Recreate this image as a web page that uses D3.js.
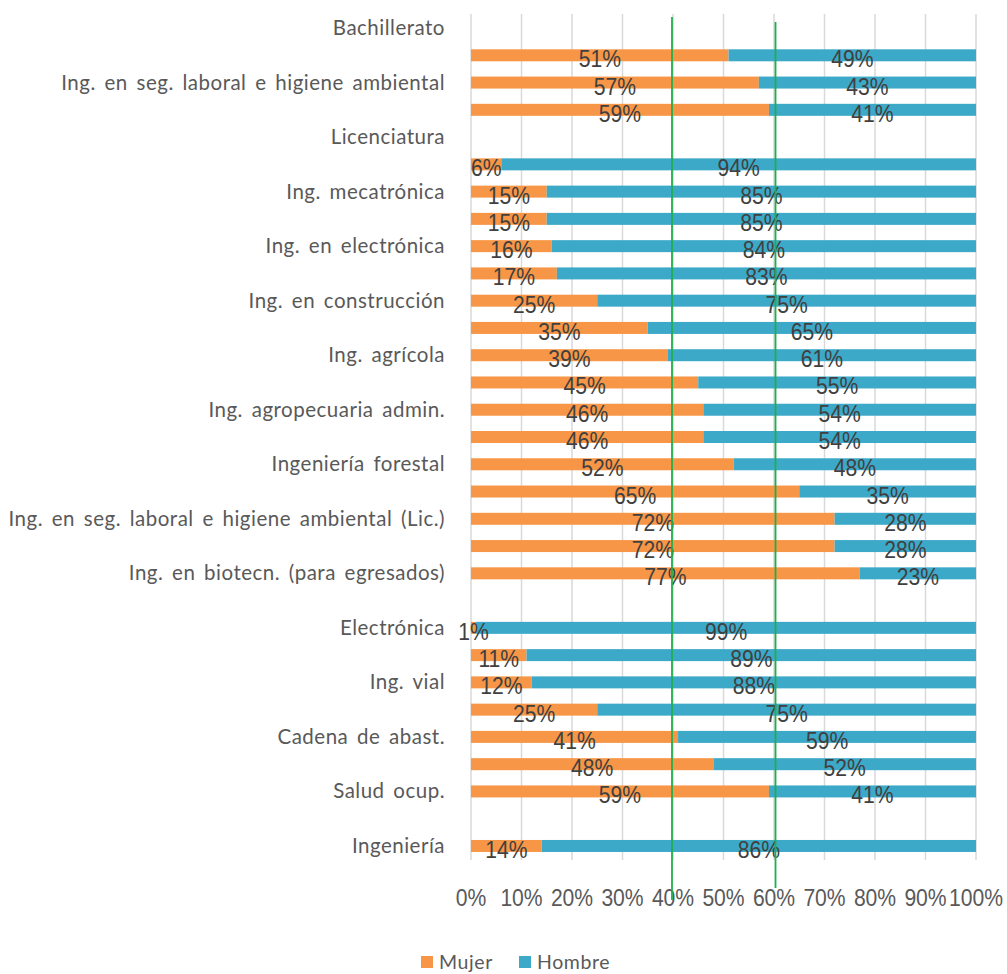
<!DOCTYPE html>
<html><head><meta charset="utf-8">
<script src="https://cdn.jsdelivr.net/npm/d3@7"></script>
<style>
html,body{margin:0;padding:0;background:#fff;}
svg{display:block;}
</style></head>
<body>
<script>
// ---- data ----
const categories = ["Bachillerato", "", "Ing. en seg. laboral e higiene ambiental", "", "Licenciatura", "", "Ing. mecatrónica", "", "Ing. en electrónica", "", "Ing. en construcción", "", "Ing. agrícola", "", "Ing. agropecuaria admin.", "", "Ingeniería forestal", "", "Ing. en seg. laboral e higiene ambiental (Lic.)", "", "Ing. en biotecn. (para egresados)", "", "Electrónica", "", "Ing. vial", "", "Cadena de abast.", "", "Salud ocup.", "", "Ingeniería"];
const mujer  = [null,51,57,59,null,6,15,15,16,17,25,35,39,45,46,46,52,65,72,72,77,null,1,11,12,25,41,48,59,null,14];
const hombre = [null,49,43,41,null,94,85,85,84,83,75,65,61,55,54,54,48,35,28,28,23,null,99,89,88,75,59,52,41,null,86];
const seriesNames = ["Mujer","Hombre"];
const seriesColors = ["#F79646","#3DA9C8"];
const ticks = [0,10,20,30,40,50,60,70,80,90,100];
const tickLabels = ["0%","10%","20%","30%","40%","50%","60%","70%","80%","90%","100%"];
const refLines = [39.8, 60.3];

// ---- layout ----
const W = 1007, H = 974;
const svg = d3.select("body").append("svg").attr("width", W).attr("height", H);

const x = d3.scaleLinear().domain([0,100]).range([471, 976]);
const y = d3.scaleBand().domain(d3.range(categories.length)).range([14.4, 859.6]).paddingInner(0.56).paddingOuter(0.28);

const rows = categories.map((c,i)=>({i, c, m: mujer[i], h: hombre[i]}));

// gridlines
svg.append("g").selectAll("line").data(ticks).join("line")
  .attr("x1", d=>x(d)).attr("x2", d=>x(d))
  .attr("y1", 14).attr("y2", 860)
  .attr("stroke", "#d9d9d9").attr("stroke-width", 1.5);

// bars
const barG = svg.append("g");
const withData = rows.filter(r=>r.m!=null);
barG.selectAll("rect.m").data(withData).join("rect").attr("class","m")
  .attr("x", x(0)).attr("y", d=>y(d.i)).attr("width", d=>x(d.m)-x(0)).attr("height", y.bandwidth())
  .attr("fill", seriesColors[0]);
barG.selectAll("rect.h").data(withData).join("rect").attr("class","h")
  .attr("x", d=>x(d.m)).attr("y", d=>y(d.i)).attr("width", d=>x(d.m+d.h)-x(d.m)).attr("height", y.bandwidth())
  .attr("fill", seriesColors[1]);

// data labels
const lblFont = "'Liberation Sans', Arial, Helvetica, sans-serif";
function addLabel(g, cx, by, txt, color, size, sx){
  g.append("text").attr("transform", `translate(${cx},${by}) scale(${sx},1)`)
    .attr("text-anchor","middle").attr("font-family", lblFont).attr("font-size", size)
    .attr("fill", color).text(txt);
}
const dl = svg.append("g");
withData.forEach(d=>{
  const cy = y(d.i) + y.bandwidth()/2;
  addLabel(dl, (x(0)+x(d.m))/2, cy+12, d.m+"%", "#404040", 24, 0.88);
  addLabel(dl, (x(d.m)+x(100))/2, cy+12, d.h+"%", "#404040", 24, 0.88);
});

// category labels
const catFont = "Lato, 'Open Sans', sans-serif";
svg.append("g").selectAll("text").data(rows.filter(r=>r.c!=="")).join("text")
  .attr("x", 445).attr("y", d=>y(d.i)+y.bandwidth()/2+7)
  .attr("text-anchor","end").attr("font-family", catFont).attr("font-size", 20.5)
  .attr("word-spacing", 3).attr("letter-spacing", 0.5)
  .attr("fill", "#595959").text(d=>d.c);

// x tick labels
const tk = svg.append("g");
ticks.forEach((t,i)=> addLabel(tk, x(t), 906, tickLabels[i], "#595959", 24, 0.88));

// reference lines (green)
svg.append("g").selectAll("line").data(refLines).join("line")
  .attr("x1", d=>x(d)).attr("x2", d=>x(d))
  .attr("y1", (d,i)=> i===0 ? 17 : 22).attr("y2", (d,i)=> i===0 ? 900 : 888)
  .attr("stroke", "#1DB04A").attr("stroke-width", 1.8);

// legend
const lg = svg.append("g");
const legX = [421, 519];
seriesNames.forEach((s,i)=>{
  lg.append("rect").attr("x", legX[i]).attr("y", 956).attr("width", 12).attr("height", 12).attr("fill", seriesColors[i]);
  lg.append("text").attr("x", legX[i]+18).attr("y", 969).attr("font-family", catFont).attr("font-size", 19.5)
    .attr("letter-spacing", 0.6).attr("fill", "#595959").text(s);
});
</script>
</body></html>
